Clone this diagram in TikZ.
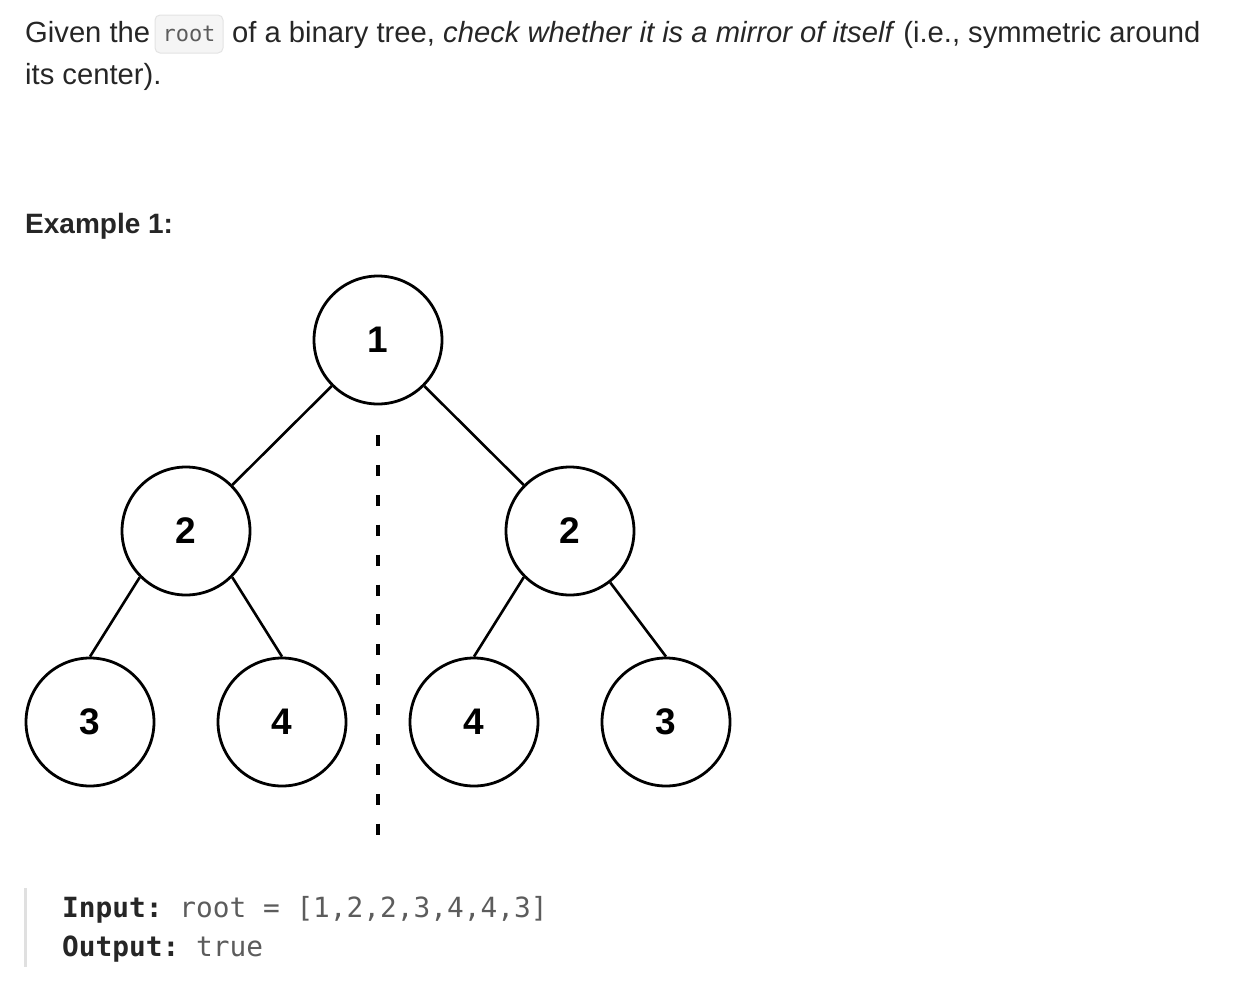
\documentclass[tikz,border=0pt]{standalone}
\usepackage{fontspec}
\setmainfont{Liberation Sans}
\setmonofont{DejaVu Sans Mono}
\definecolor{txt}{HTML}{262626}
\definecolor{codegray}{HTML}{5C5C5C}
\definecolor{codebg}{HTML}{F5F5F5}
\definecolor{codeborder}{HTML}{E3E3E3}
\definecolor{barcol}{HTML}{E0E0E0}
\begin{document}
\begin{tikzpicture}[x=1pt,y=-1pt,
  bodytext/.style={text=txt,inner sep=0,font=\fontsize{29.2}{34}\selectfont},
  treenode/.style={circle,draw=black,line width=2.8pt,minimum size=128pt,inner sep=0,
    font=\fontsize{37}{40}\selectfont\bfseries,text=black},
  edge/.style={line width=2.6pt,draw=black},
  codetext/.style={inner sep=0,font=\fontsize{27.8}{32}\ttfamily}
]
\useasboundingbox (0,0) rectangle (1238,988);
% paragraph
\node[bodytext,anchor=base west] (t1) at (25,42) {Given the};
\node[draw=codeborder,fill=codebg,rounded corners=5pt,line width=1pt,
  minimum width=68pt,minimum height=38pt,inner sep=0,
  font=\fontsize{22}{26}\ttfamily,text=codegray] (rootbox) at (189,34) {root};
\node[bodytext,anchor=base west] (t2) at (232,42) {of a binary tree, \textit{check whether it is a mirror of itself} (i.e., symmetric around};
\node[bodytext,anchor=base west] (t3) at (25,84) {its center).};
\node[bodytext,anchor=base west,font=\fontsize{28}{32}\selectfont\bfseries] (ex) at (25,233) {Example 1:};
% tree
\node[treenode] (n1) at (378,340) {1};
\node[treenode] (n2) at (186,531) {2};
\node[treenode] (n3) at (570,531) {2};
\node[treenode] (n4) at (90,722) {3};
\node[treenode] (n5) at (282,722) {4};
\node[treenode] (n6) at (474,722) {4};
\node[treenode] (n7) at (666,722) {3};
\draw[edge] (n1) -- (n2);
\draw[edge] (n1) -- (n3);
\draw[edge] (n2.south west) -- (n4.north);
\draw[edge] (n2.south east) -- (n5.north);
\draw[edge] (n3.south west) -- (n6.north);
\draw[edge] (n3.-52) -- (n7.north);
\coordinate (mtop) at (378,435);
\coordinate (mbot) at (378,853);
\draw[line width=4pt,dash pattern=on 11pt off 18.9pt] (mtop) -- (mbot);
% code block
\coordinate (bartop) at (25,888);
\coordinate (barbot) at (25,967);
\draw[barcol,line width=3pt] (bartop) -- (barbot);
\node[codetext,anchor=base west] (in) at (62,917) {\textcolor{txt}{\bfseries Input:} \textcolor{codegray}{root = [1,2,2,3,4,4,3]}};
\node[codetext,anchor=base west] (out) at (62,956) {\textcolor{txt}{\bfseries Output:} \textcolor{codegray}{true}};
\end{tikzpicture}
\end{document}
